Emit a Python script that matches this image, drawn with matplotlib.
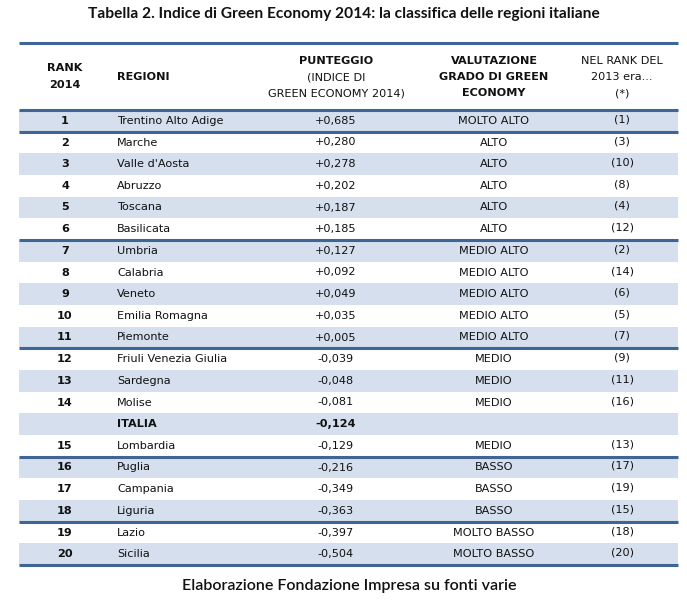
import matplotlib.pyplot as plt
from matplotlib.patches import Rectangle

title = "Tabella 2. Indice di Green Economy 2014: la classifica delle regioni italiane"
footer = "Elaborazione Fondazione Impresa su fonti varie"

ranks = ["1", "2", "3", "4", "5", "6", "7", "8", "9", "10", "11", "12", "13", "14",
         "", "15", "16", "17", "18", "19", "20"]
regioni = ["Trentino Alto Adige", "Marche", "Valle d'Aosta", "Abruzzo", "Toscana",
           "Basilicata", "Umbria", "Calabria", "Veneto", "Emilia Romagna", "Piemonte",
           "Friuli Venezia Giulia", "Sardegna", "Molise", "ITALIA", "Lombardia",
           "Puglia", "Campania", "Liguria", "Lazio", "Sicilia"]
punteggio = ["+0,685", "+0,280", "+0,278", "+0,202", "+0,187", "+0,185", "+0,127",
             "+0,092", "+0,049", "+0,035", "+0,005", "-0,039", "-0,048", "-0,081",
             "-0,124", "-0,129", "-0,216", "-0,349", "-0,363", "-0,397", "-0,504"]
valutazione = ["MOLTO ALTO", "ALTO", "ALTO", "ALTO", "ALTO", "ALTO", "MEDIO ALTO",
               "MEDIO ALTO", "MEDIO ALTO", "MEDIO ALTO", "MEDIO ALTO", "MEDIO", "MEDIO",
               "MEDIO", "", "MEDIO", "BASSO", "BASSO", "BASSO", "MOLTO BASSO",
               "MOLTO BASSO"]
rank2013 = ["(1)", "(3)", "(10)", "(8)", "(4)", "(12)", "(2)", "(14)", "(6)", "(5)",
            "(7)", "(9)", "(11)", "(16)", "", "(13)", "(17)", "(19)", "(15)", "(18)",
            "(20)"]
# rows below which a thick rule is drawn
rule_after = [0, 5, 10, 15, 18, 20]

shade = "#d5dfed"
rule = "#3f6496"
txt = "#111111"
fs = 8.1

fig = plt.figure(figsize=(6.87, 6.0), dpi=100)
ax = fig.add_axes([0, 0, 1, 1])
ax.set_xlim(0, 687)
ax.set_ylim(600, 0)
ax.axis("off")

x0, x1 = 19, 678
top, head_bot = 43, 110
rh = (565 - head_bot) / len(regioni)
cx_rank, x_reg, cx_pun, cx_val, cx_old = 65, 117, 336, 494, 622

ax.text(344, 14, title, ha="center", va="center", fontsize=11.2,
        family="Lato", weight="bold", color=txt)
ax.text(349, 586, footer, ha="center", va="center", fontsize=11.5,
        family="Lato", weight="semibold", color=txt)

# header
ax.text(cx_rank, 68, "RANK", ha="center", va="center", fontsize=fs, weight="bold", color=txt)
ax.text(cx_rank, 85, "2014", ha="center", va="center", fontsize=fs, weight="bold", color=txt)
ax.text(x_reg, 77, "REGIONI", ha="left", va="center", fontsize=fs, weight="bold", color=txt)
ax.text(cx_pun, 61, "PUNTEGGIO", ha="center", va="center", fontsize=fs, weight="bold", color=txt)
ax.text(cx_pun, 77, "(INDICE DI", ha="center", va="center", fontsize=fs, color=txt)
ax.text(cx_pun, 93, "GREEN ECONOMY 2014)", ha="center", va="center", fontsize=fs, color=txt)
for yy, s in zip([61, 77, 93], ["VALUTAZIONE", "GRADO DI GREEN", "ECONOMY"]):
    ax.text(cx_val, yy, s, ha="center", va="center", fontsize=fs, weight="bold", color=txt)
for yy, s in zip([61, 77, 93], ["NEL RANK DEL", "2013 era...", "(*)"]):
    ax.text(cx_old, yy, s, ha="center", va="center", fontsize=fs, color=txt)

for i in range(len(regioni)):
    y = head_bot + i * rh
    yc = y + rh / 2
    if i % 2 == 0:
        ax.add_patch(Rectangle((x0, y), x1 - x0, rh, facecolor=shade, edgecolor="none"))
    bold = regioni[i] == "ITALIA"
    ax.text(cx_rank, yc, ranks[i], ha="center", va="center", fontsize=fs, weight="bold", color=txt)
    ax.text(x_reg, yc, regioni[i], ha="left", va="center", fontsize=fs,
            weight="bold" if bold else "normal", color=txt)
    ax.text(cx_pun, yc, punteggio[i], ha="center", va="center", fontsize=fs,
            weight="bold" if bold else "normal", color=txt)
    ax.text(cx_val, yc, valutazione[i], ha="center", va="center", fontsize=fs, color=txt)
    ax.text(cx_old, yc - 1.5, rank2013[i], ha="center", va="center", fontsize=fs, color=txt)

ax.plot([x0, x1], [top, top], color=rule, lw=2.2, solid_capstyle="butt")
ax.plot([x0, x1], [head_bot, head_bot], color=rule, lw=2.2, solid_capstyle="butt")
for i in rule_after:
    y = head_bot + (i + 1) * rh
    ax.plot([x0, x1], [y, y], color=rule, lw=2.2, solid_capstyle="butt")

fig.savefig("out.png", dpi=100, facecolor="white")
